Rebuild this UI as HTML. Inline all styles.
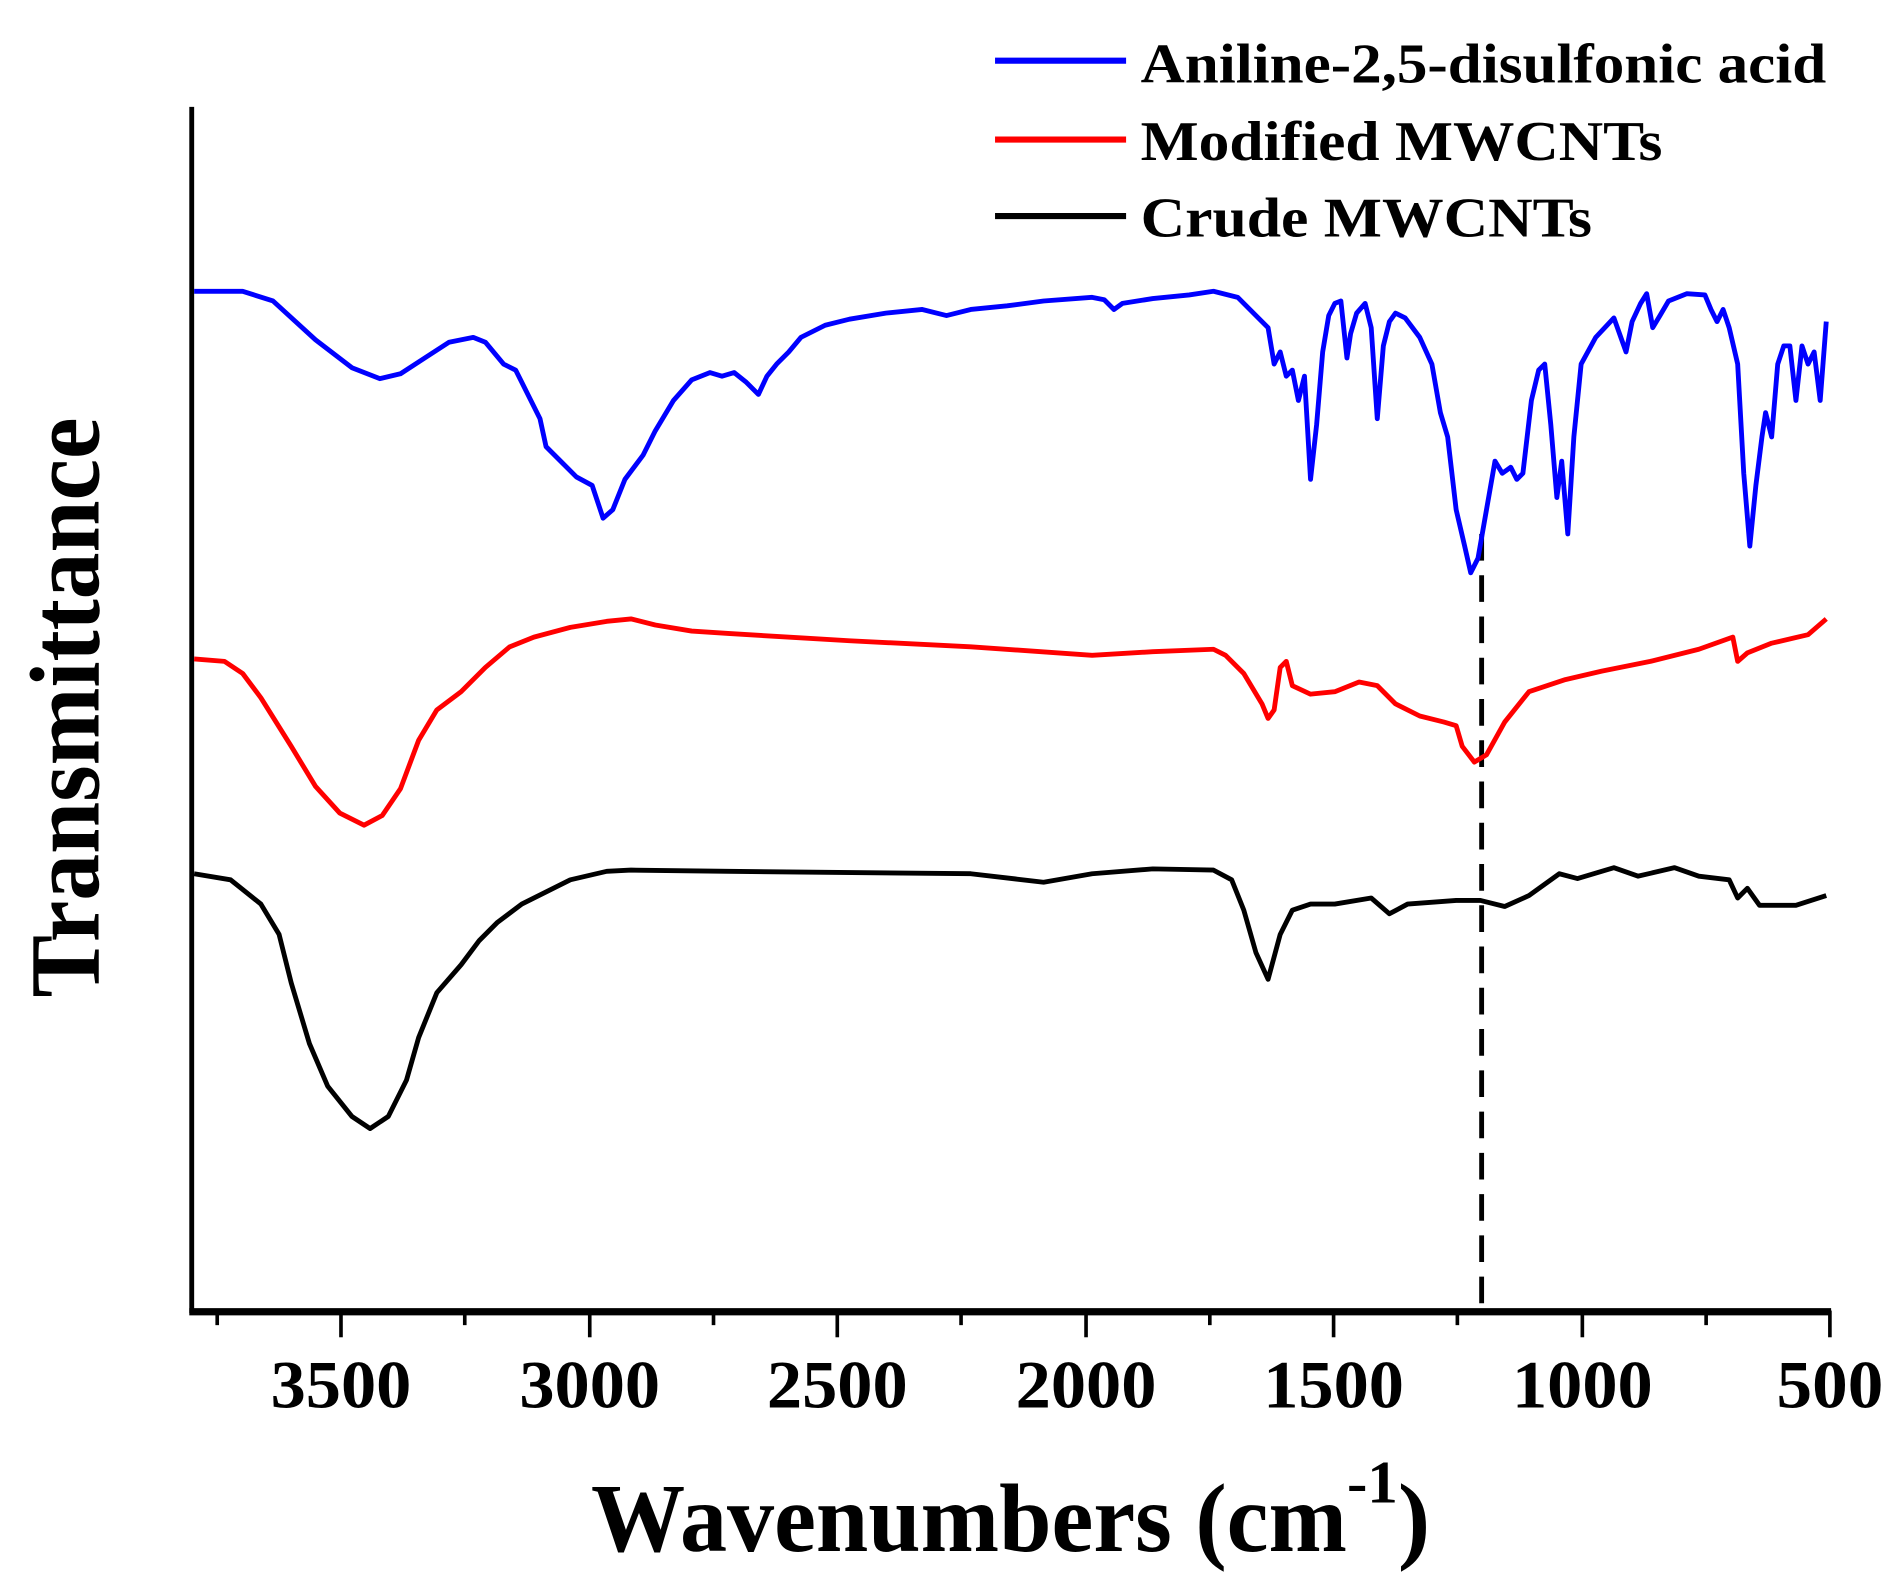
<!DOCTYPE html>
<html><head><meta charset="utf-8"><style>html,body{margin:0;padding:0;background:#fff}svg{display:block}</style></head><body>
<svg width="1893" height="1593" viewBox="0 0 1560 1312.7" xmlns="http://www.w3.org/2000/svg" font-family="'Liberation Serif', serif" font-weight="bold">
<rect width="1560" height="1313" fill="#fff"/>
<g stroke="#000" fill="none">
<line x1="158" y1="88" x2="158" y2="1082" stroke-width="4"/>
<line x1="156" y1="1081" x2="1509" y2="1081" stroke-width="6"/>
<g stroke-width="3">
<line x1="281" y1="1080" x2="281" y2="1102"/><line x1="486" y1="1080" x2="486" y2="1102"/><line x1="690" y1="1080" x2="690" y2="1102"/><line x1="895" y1="1080" x2="895" y2="1102"/><line x1="1099" y1="1080" x2="1099" y2="1102"/><line x1="1304" y1="1080" x2="1304" y2="1102"/><line x1="1508" y1="1080" x2="1508" y2="1102"/>
<line x1="179" y1="1080" x2="179" y2="1092"/><line x1="383" y1="1080" x2="383" y2="1092"/><line x1="588" y1="1080" x2="588" y2="1092"/><line x1="792" y1="1080" x2="792" y2="1092"/><line x1="997" y1="1080" x2="997" y2="1092"/><line x1="1201" y1="1080" x2="1201" y2="1092"/><line x1="1406" y1="1080" x2="1406" y2="1092"/>
</g>
<line x1="1221" y1="440" x2="1221" y2="1078" stroke-width="4" stroke-dasharray="22,12"/>
<g stroke-width="4" stroke-linejoin="round">
<polyline stroke="#0000ff" points="160,240 200,240 225,248 260,280 290,303 313,312 330,308 350,295 370,282 390,278 400,282 415,300 425,305 435,325 445,345 450,368 460,378 475,393 488,400 497,427 505,420 515,395 530,375 540,355 555,330 570,313 585,307 595,310 605,307 615,315 625,325 632,310 640,300 650,290 660,278 680,268 700,263 730,258 760,255 780,260 800,255 830,252 860,248 900,245 910,247 918,255 925,250 950,246 980,243 1000,240 1020,245 1035,260 1045,270 1050,300 1055,290 1060,310 1065,305 1070,330 1075,310 1080,395 1085,350 1090,290 1095,260 1100,250 1105,248 1110,295 1113,275 1118,258 1125,250 1130,270 1135,345 1140,285 1145,265 1150,258 1158,262 1170,278 1180,300 1187,340 1193,360 1200,420 1207,450 1212,472 1218,460 1225,420 1232,380 1238,390 1245,385 1250,395 1255,390 1262,330 1268,305 1273,300 1278,350 1283,410 1287,380 1292,440 1297,360 1303,300 1315,278 1330,262 1340,290 1345,265 1352,250 1357,242 1362,270 1368,260 1375,248 1390,242 1405,243 1410,255 1415,265 1420,255 1425,270 1432,300 1437,390 1442,450 1447,400 1452,360 1455,340 1460,360 1465,300 1470,285 1475,285 1480,330 1485,285 1490,300 1495,290 1500,330 1505,265"/>
<polyline stroke="#ff0000" points="160,543 185,545 200,555 215,575 240,615 260,648 280,670 300,680 315,672 330,650 345,610 360,585 380,570 400,550 420,533 440,525 470,517 500,512 520,510 540,515 570,520 600,522 700,528 800,533 900,540 950,537 1000,535 1010,540 1025,555 1040,580 1045,592 1050,585 1055,550 1060,545 1065,565 1080,572 1100,570 1120,562 1135,565 1150,580 1170,590 1190,595 1200,598 1205,615 1215,628 1225,622 1240,595 1260,570 1290,560 1320,553 1360,545 1400,535 1428,525 1432,545 1440,538 1460,530 1490,523 1505,510"/>
<polyline stroke="#000" points="160,720 190,725 215,745 230,770 240,810 255,860 270,895 290,920 305,930 320,920 335,890 345,855 360,818 380,795 395,775 410,760 430,745 450,735 470,725 500,718 520,717 600,718 800,720 860,727 900,720 950,716 1000,717 1015,725 1025,750 1035,785 1045,807 1055,770 1065,750 1080,745 1100,745 1130,740 1145,753 1160,745 1200,742 1220,742 1240,747 1260,738 1285,720 1300,724 1330,715 1350,722 1380,715 1400,722 1425,725 1432,740 1440,732 1450,746 1480,746 1505,738"/>
<line x1="820" y1="50" x2="928" y2="50" stroke="#0000ff" stroke-width="5"/>
<line x1="820" y1="115" x2="928" y2="115" stroke="#ff0000" stroke-width="5"/>
<line x1="820" y1="178" x2="928" y2="178" stroke="#000" stroke-width="5"/>
</g>
</g>
<g font-size="56" text-anchor="middle">
<text x="281" y="1160" textLength="116" lengthAdjust="spacingAndGlyphs">3500</text>
<text x="486" y="1160" textLength="116" lengthAdjust="spacingAndGlyphs">3000</text>
<text x="690" y="1160" textLength="116" lengthAdjust="spacingAndGlyphs">2500</text>
<text x="895" y="1160" textLength="116" lengthAdjust="spacingAndGlyphs">2000</text>
<text x="1099" y="1160" textLength="116" lengthAdjust="spacingAndGlyphs">1500</text>
<text x="1304" y="1160" textLength="116" lengthAdjust="spacingAndGlyphs">1000</text>
<text x="1508" y="1160" textLength="88" lengthAdjust="spacingAndGlyphs">500</text>
</g>
<g font-size="46">
<text x="940" y="68" textLength="565" lengthAdjust="spacingAndGlyphs">Aniline-2,5-disulfonic acid</text>
<text x="940" y="132" textLength="430" lengthAdjust="spacingAndGlyphs">Modified MWCNTs</text>
<text x="940" y="195" textLength="372" lengthAdjust="spacingAndGlyphs">Crude MWCNTs</text>
</g>
<text font-size="80" x="487" y="1278" textLength="623" lengthAdjust="spacingAndGlyphs">Wavenumbers (cm</text>
<text font-size="50" x="1110" y="1238" textLength="42" lengthAdjust="spacingAndGlyphs">-1</text>
<text font-size="80" x="1152" y="1278">)</text>
<text font-size="82" transform="translate(81,822) rotate(-90)" textLength="478" lengthAdjust="spacingAndGlyphs">Transmittance</text>
</svg>
</body></html>
